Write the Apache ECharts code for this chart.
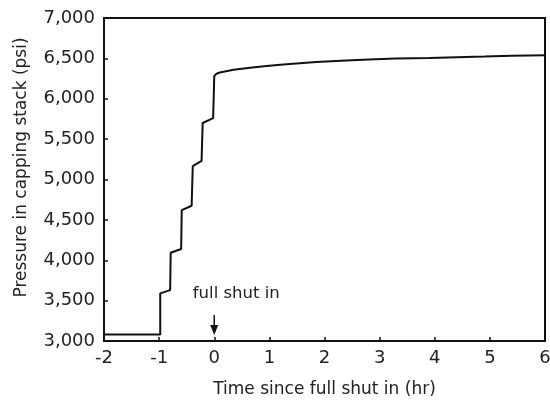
<!DOCTYPE html>
<html>
<head>
<meta charset="utf-8">
<script src="https://cdn.jsdelivr.net/npm/echarts@6/dist/echarts.min.js"></script>
<style>
html,body{margin:0;padding:0;background:#fff;}
#chart{width:550px;height:401px;}
</style>
</head>
<body>
<div id="chart"></div>
<script>
// Time since full shut in (hr)
var timeHr = [-2, -0.98, -0.98, -0.80, -0.79, -0.60, -0.59, -0.41, -0.39, -0.23, -0.21, -0.02, 0.0, 0.04, 0.1, 0.35, 0.65, 0.95, 1.25, 1.55, 1.85, 2.3, 2.8, 3.3, 3.9, 4.4, 4.9, 5.4, 6.0];
// Pressure in capping stack (psi)
var pressurePsi = [3080, 3080, 3590, 3630, 4093, 4140, 4620, 4675, 5165, 5230, 5700, 5760, 6280, 6310, 6325, 6360, 6385, 6405, 6425, 6440, 6455, 6470, 6485, 6497, 6505, 6515, 6522, 6532, 6540];
var xTicks = [-2, -1, 0, 1, 2, 3, 4, 5, 6];
var yTicks = [3000, 3500, 4000, 4500, 5000, 5500, 6000, 6500, 7000];
var annotationTime = 0;
var annotationTop = 3322;
var annotationBottom = 3100;
var annotationText = 'full shut in';

var seriesData = timeHr.map(function (t, i) { return [t, pressurePsi[i]]; });
var font = 'DejaVu Sans';
var chart = echarts.init(document.getElementById('chart'), null, {renderer: 'canvas'});
chart.setOption({
  backgroundColor: '#fff',
  animation: false,
  grid: {left: 104, right: 5, top: 18, bottom: 60, show: true, borderColor: '#111', borderWidth: 2, outerBoundsMode: 'none', containLabel: false},
  xAxis: {
    type: 'value', min: xTicks[0], max: xTicks[xTicks.length - 1], interval: 1,
    name: 'Time since full shut in (hr)', nameLocation: 'middle', nameGap: 40,
    nameTextStyle: {fontFamily: font, fontSize: 17, color: '#222'},
    axisLine: {onZero: false, lineStyle: {color: '#111', width: 2}},
    axisTick: {inside: true, length: 4, lineStyle: {color: '#111', width: 1.5}},
    axisLabel: {fontFamily: font, fontSize: 18, color: '#222', margin: 8},
    splitLine: {show: false}
  },
  yAxis: {
    type: 'value', min: yTicks[0], max: yTicks[yTicks.length - 1], interval: 500,
    name: 'Pressure in capping stack (psi)', nameLocation: 'middle', nameGap: 74,
    nameTextStyle: {fontFamily: font, fontSize: 17, color: '#222', padding: [0, 0, 0, 24]},
    axisLine: {onZero: false, lineStyle: {color: '#111', width: 2}},
    axisTick: {inside: true, length: 4, lineStyle: {color: '#111', width: 1.5}},
    axisLabel: {fontFamily: font, fontSize: 18, color: '#222', margin: 9,
      formatter: function (v) { return v.toLocaleString('en-US'); }},
    splitLine: {show: false}
  },
  series: [{
    type: 'line', data: seriesData, showSymbol: false, symbol: 'none',
    lineStyle: {color: '#111', width: 2}
  }, {
    type: 'line', silent: true,
    lineStyle: {color: '#111', width: 1.5},
    itemStyle: {color: '#111'},
    showSymbol: true,
    data: [
      {value: [annotationTime, annotationTop], symbol: 'circle', symbolSize: 1,
        itemStyle: {color: 'rgba(0,0,0,0)'},
        label: {show: true, position: 'top', distance: 12, offset: [22, 0], formatter: annotationText,
          fontFamily: font, fontSize: 16.5, color: '#222'}},
      {value: [annotationTime, annotationBottom], symbol: 'triangle', symbolSize: [8, 10], symbolRotate: 180, symbolOffset: [0, -3]}
    ]
  }]
});
</script>
</body>
</html>
